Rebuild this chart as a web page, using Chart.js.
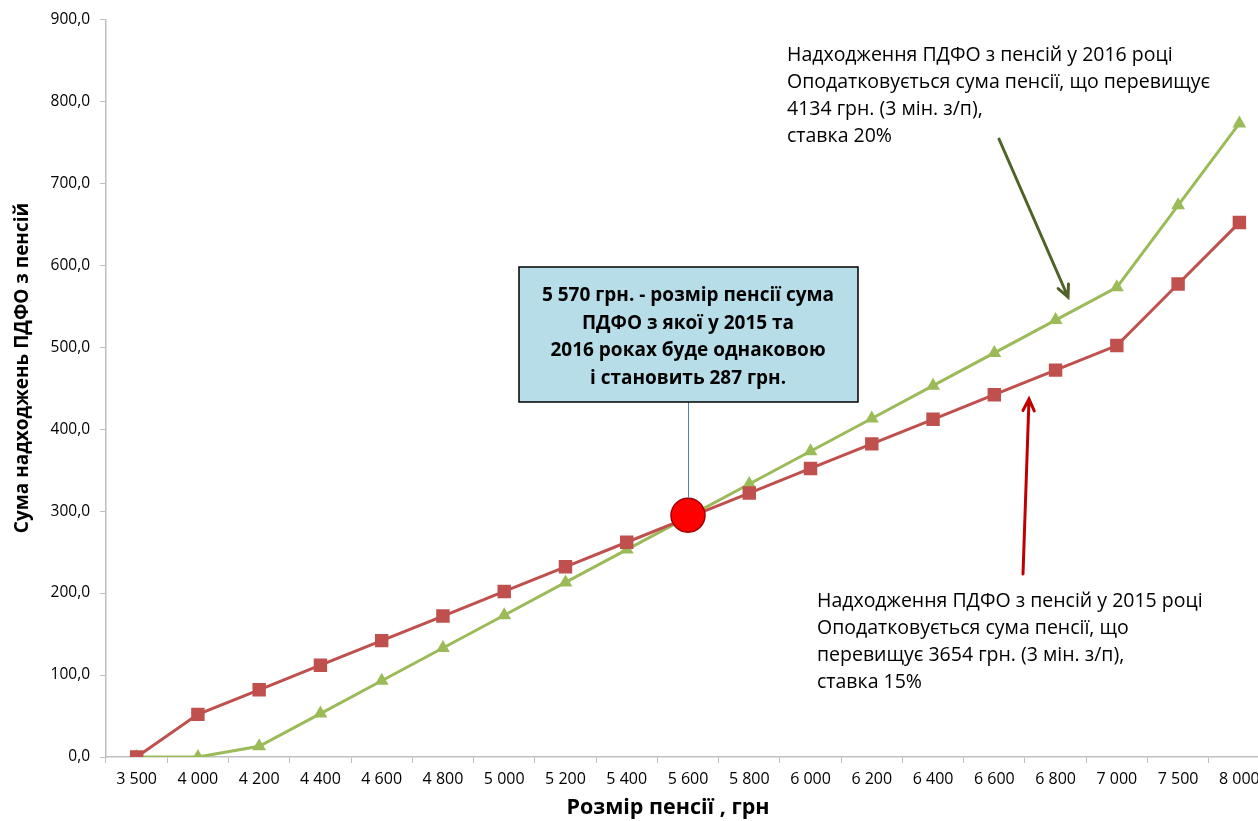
<!DOCTYPE html>
<html>
<head>
<meta charset="utf-8">
<script src="https://cdn.jsdelivr.net/npm/chart.js@4.4.0/dist/chart.umd.min.js"></script>
<style>
  html, body { margin: 0; padding: 0; background: #fff; overflow: hidden; }
  canvas { display: block; }
</style>
</head>
<body>
<canvas id="chart" width="1270" height="821"></canvas>
<script>
// DATA
const pensions = [3500, 4000, 4200, 4400, 4600, 4800, 5000, 5200, 5400, 5600, 5800, 6000, 6200, 6400, 6600, 6800, 7000, 7500, 8000];
const pdfo2015 = [0, 52, 82, 112, 142, 172, 202, 232, 262, 292, 322, 352, 382, 412, 442, 472, 502, 577, 652];
const pdfo2016 = [0, 0, 13, 53, 93, 133, 173, 213, 253, 293, 333, 373, 413, 453, 493, 533, 573, 673, 773];
const crossPension = 5600;
const crossValue = 295;

const xTitle = 'Розмір пенсії , грн';
const yTitle = 'Сума надходжень ПДФО з пенсій';
const note2016 = ['Надходження ПДФО з пенсій у 2016 році', 'Оподатковується сума пенсії, що перевищує', '4134 грн. (3 мін. з/п),', 'ставка 20%'];
const note2015 = ['Надходження ПДФО з пенсій у 2015 році', 'Оподатковується сума пенсії, що', 'перевищує 3654 грн. (3 мін. з/п),', 'ставка 15%'];
const boxText = ['5 570 грн. - розмір пенсії сума', 'ПДФО з якої у 2015 та', '2016 роках буде однаковою', 'і становить 287 грн.'];

const FONT = "'Open Sans', sans-serif";
const fmtPension = v => String(v).replace(/\B(?=(\d{3})+(?!\d))/g, ' ');
const fmtValue = v => v.toFixed(1).replace('.', ',');

// ARROW HELPER
function arrow(ctx, x1, y1, x2, y2, color) {
    const a = Math.atan2(y2 - y1, x2 - x1), h = 13;
    ctx.save();
    ctx.strokeStyle = color;
    ctx.lineWidth = 3;
    ctx.lineCap = 'round';
    ctx.beginPath();
    ctx.moveTo(x1, y1);
    ctx.lineTo(x2, y2);
    ctx.moveTo(x2 - h * Math.cos(a - 0.45), y2 - h * Math.sin(a - 0.45));
    ctx.lineTo(x2, y2);
    ctx.lineTo(x2 - h * Math.cos(a + 0.45), y2 - h * Math.sin(a + 0.45));
    ctx.stroke();
    ctx.restore();
}

function lines(ctx, list, x, y, step) {
    list.forEach((t, i) => ctx.fillText(t, x, y + i * step));
}

// NOTES, ARROWS AND CALLOUT
const notesPlugin = {
    id: 'notes',
    afterDatasetsDraw(chart) {
        const ctx = chart.ctx;
        const xs = chart.scales.x, ys = chart.scales.y;
        const cx = xs.getPixelForValue(pensions.indexOf(crossPension));
        const cy = ys.getPixelForValue(crossValue);

        // connector to the crossing point
        ctx.save();
        ctx.strokeStyle = '#4F81BD';
        ctx.lineWidth = 1;
        ctx.beginPath();
        ctx.moveTo(cx + 0.5, 402);
        ctx.lineTo(cx + 0.5, cy - 17);
        ctx.stroke();

        // callout box
        ctx.fillStyle = '#B7DEE8';
        ctx.fillRect(cx - 169, 267, 339, 135);
        ctx.strokeStyle = '#000';
        ctx.lineWidth = 1.5;
        ctx.strokeRect(cx - 169, 267, 339, 135);
        ctx.fillStyle = '#000';
        ctx.font = 'bold 19px ' + FONT;
        ctx.textAlign = 'center';
        ctx.textBaseline = 'middle';
        lines(ctx, boxText, cx, 296, 27.5);

        // text notes
        ctx.font = '19.5px ' + FONT;
        ctx.textAlign = 'left';
        lines(ctx, note2016, 787, 55, 27.3);
        lines(ctx, note2015, 817, 601, 27.3);

        // axis titles (Excel puts them a bit off the middle)
        ctx.font = 'bold 21.5px ' + FONT;
        ctx.textAlign = 'center';
        ctx.fillText(xTitle, 668, 808);
        ctx.font = 'bold 19px ' + FONT;
        ctx.translate(23, 368);
        ctx.rotate(-Math.PI / 2);
        ctx.fillText(yTitle, 0, 0);
        ctx.restore();

        arrow(ctx, 999, 139, 1068, 297, '#4F6228');
        arrow(ctx, 1023, 574, 1029, 399, '#C00000');
    }
};

new Chart(document.getElementById('chart'), {
    type: 'line',
    data: {
        labels: pensions.map(fmtPension),
        datasets: [
            {
                label: 'crossing',
                data: pensions.map(p => p === crossPension ? crossValue : null),
                showLine: false,
                pointStyle: 'circle',
                pointRadius: 17,
                backgroundColor: '#FF0000',
                borderColor: '#A00000',
                borderWidth: 1.5,
                order: 0,
            },
            {
                label: '2015',
                data: pdfo2015,
                borderColor: '#C0504D',
                backgroundColor: '#C0504D',
                borderWidth: 3,
                pointStyle: 'rect',
                pointRadius: 9.5,
                pointBorderWidth: 0,
                order: 1,
            },
            {
                label: '2016',
                data: pdfo2016,
                borderColor: '#9BBB59',
                backgroundColor: '#9BBB59',
                borderWidth: 3,
                pointStyle: 'triangle',
                pointRadius: 8,
                pointBorderWidth: 0,
                order: 2,
            },
        ],
    },
    options: {
        responsive: false,
        animation: false,
        layout: { autoPadding: false, padding: { top: 19, right: 0, bottom: 0, left: 0 } },
        plugins: {
            legend: { display: false },
            tooltip: { enabled: false },
        },
        scales: {
            x: {
                offset: true,
                grid: { offset: true, drawOnChartArea: false, tickLength: 6, color: '#BFBFBF' },
                border: { color: '#BFBFBF', width: 1.5 },
                ticks: { color: '#000', font: { family: FONT, size: 16 }, padding: 7, maxRotation: 0, autoSkip: false },
                afterFit: s => { s.height = 64; },
            },
            y: {
                min: 0,
                max: 900,
                ticks: { stepSize: 100, color: '#000', font: { family: FONT, size: 15.5 }, padding: 10, callback: fmtValue },
                grid: { drawOnChartArea: false, tickLength: 6, color: '#BFBFBF' },
                border: { color: '#BFBFBF', width: 1.5 },
                afterFit: s => { s.width = 106; },
            },
        },
    },
    plugins: [notesPlugin],
});
</script>
</body>
</html>
